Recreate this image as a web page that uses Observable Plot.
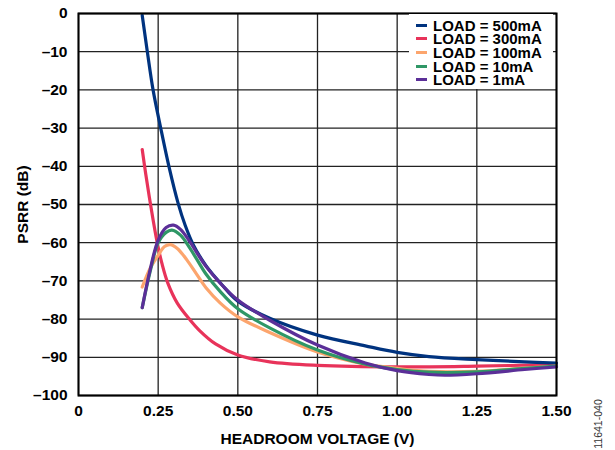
<!DOCTYPE html>
<html>
<head>
<meta charset="utf-8">
<script src="https://cdn.jsdelivr.net/npm/d3@7"></script>
<script src="https://cdn.jsdelivr.net/npm/@observablehq/plot@0.6"></script>
<style>
  body { margin: 0; background: #fff; }
  #wrap { position: relative; width: 615px; height: 450px; font-family: "Liberation Sans", Arial, sans-serif; }
  #legend { position: absolute; left: 409px; top: 14px; width: 144px; height: 75px; background: #fff; }
  .row { position: absolute; left: 0; height: 13px; line-height: 13px; display: flex; align-items: center; font-weight: bold; font-size: 15px; color: #000; white-space: nowrap; }
  .sw { width: 11px; height: 3px; margin-left: 7px; margin-right: 6px; }
  #code { position: absolute; left: 598px; top: 424px; transform: translate(-50%, -50%) rotate(-90deg); font-size: 10.5px; color: #333; white-space: nowrap; }
</style>
</head>
<body>
<div id="wrap"></div>
<script>
// ---- data ----
const seriesNames = ["LOAD = 500mA", "LOAD = 300mA", "LOAD = 100mA", "LOAD = 10mA", "LOAD = 1mA"];
const seriesColors = ["#00337f", "#e8335a", "#fca56d", "#2f9766", "#5b2f98"];

const v500 = [0.2, 0.216, 0.234, 0.258, 0.285, 0.312, 0.335, 0.36, 0.4, 0.45, 0.5, 0.6, 0.75, 0.9, 1.0, 1.1, 1.25, 1.4, 1.5];
const p500 = [-0.5, -10, -20, -30, -40.5, -49.5, -55.5, -60.5, -66, -71, -75.3, -79.8, -84.2, -87, -88.7, -89.8, -90.6, -91.2, -91.5];

const v300 = [0.2, 0.211, 0.228, 0.247, 0.262, 0.28, 0.31, 0.35, 0.38, 0.43, 0.5, 0.6, 0.75, 1.0, 1.25, 1.5];
const p300 = [-35.6, -42, -51, -60, -65.5, -70.5, -75.8, -80.2, -83, -86.5, -89.4, -91.2, -92.1, -92.5, -92.3, -91.9];

const v100 = [0.2, 0.225, 0.25, 0.27, 0.288, 0.31, 0.34, 0.371, 0.4, 0.445, 0.5, 0.6, 0.75, 0.9, 1.0, 1.1, 1.25, 1.4, 1.5];
const p100 = [-71.6, -66.7, -63.3, -61, -60.5, -61.5, -64.5, -68.3, -71.8, -75.8, -79.4, -83.5, -88.6, -91.8, -92.9, -93.7, -93.7, -92.8, -92.3];

const v10 = [0.2, 0.225, 0.25, 0.275, 0.293, 0.32, 0.35, 0.371, 0.4, 0.445, 0.5, 0.6, 0.75, 0.9, 1.0, 1.1, 1.25, 1.4, 1.5];
const p10 = [-77, -67.5, -60, -57.3, -56.7, -58, -61.5, -64.3, -68.2, -72.8, -77.3, -82.3, -88.1, -91.8, -93.2, -93.9, -93.8, -92.9, -92.3];

const v1 = [0.2, 0.225, 0.25, 0.275, 0.298, 0.32, 0.35, 0.371, 0.4, 0.445, 0.5, 0.6, 0.75, 0.9, 1.0, 1.1, 1.15, 1.25, 1.4, 1.5];
const p1 = [-77, -67, -59.3, -56, -55.4, -56.5, -59.8, -62.6, -66.2, -70.6, -75, -80.3, -86.8, -91.5, -93.5, -94.5, -94.7, -94.3, -93.2, -92.5];

const xTicks = [0, 0.25, 0.5, 0.75, 1.0, 1.25, 1.5];
const yTicks = [0, -10, -20, -30, -40, -50, -60, -70, -80, -90, -100];

// ---- build table ----
const allV = [v500, v300, v100, v10, v1];
const allP = [p500, p300, p100, p10, p1];
const rows = [];
seriesNames.forEach((name, i) => {
  allV[i].forEach((v, j) => rows.push({series: name, v, p: allP[i][j]}));
});
const drawOrder = ["LOAD = 300mA", "LOAD = 500mA", "LOAD = 100mA", "LOAD = 10mA", "LOAD = 1mA"];

const font = '"Liberation Sans", Arial, sans-serif';
const chart = Plot.plot({
  width: 615,
  height: 450,
  marginTop: 13,
  marginRight: 59,
  marginBottom: 55,
  marginLeft: 78,
  style: {fontFamily: font, fontSize: "15.5px", fontWeight: "bold", color: "#000", background: "#fff"},
  x: {domain: [0, 1.5]},
  y: {domain: [-100, 0]},
  color: {domain: seriesNames, range: seriesColors},
  marks: [
    Plot.ruleX(xTicks, {stroke: "#222", strokeWidth: 1.3}),
    Plot.ruleY(yTicks, {stroke: "#222", strokeWidth: 1.3}),
    ...drawOrder.map(name => Plot.line(rows.filter(d => d.series === name), {
      x: "v", y: "p", stroke: "series", strokeWidth: 3.2, curve: "catmull-rom"
    })),
    Plot.frame({stroke: "#000", strokeWidth: 2}),
    Plot.axisX({ticks: xTicks, tickSize: 0, tickPadding: 9, tickFormat: d => d === 0 ? "0" : d.toFixed(2),
      label: "HEADROOM VOLTAGE (V)", labelAnchor: "center", labelArrow: "none", labelOffset: 48, fontSize: 15.5}),
    Plot.axisY({ticks: yTicks, tickSize: 0, tickPadding: 11, tickFormat: d => d === 0 ? "0" : "\u2013" + Math.abs(d),
      label: "PSRR (dB)", labelAnchor: "center", labelArrow: "none", labelOffset: 62, fontSize: 15.5})
  ]
});

const wrap = document.getElementById("wrap");
wrap.appendChild(chart);

// legend
const legend = document.createElement("div");
legend.id = "legend";
seriesNames.forEach((name, i) => {
  const row = document.createElement("div");
  row.className = "row";
  row.style.top = (4.5 + i * 13.7) + "px";
  const sw = document.createElement("span");
  sw.className = "sw";
  sw.style.background = seriesColors[i];
  const t = document.createElement("span");
  t.textContent = name;
  row.appendChild(sw);
  row.appendChild(t);
  legend.appendChild(row);
});
wrap.appendChild(legend);

const code = document.createElement("div");
code.id = "code";
code.textContent = "11641-040";
wrap.appendChild(code);
</script>
</body>
</html>
